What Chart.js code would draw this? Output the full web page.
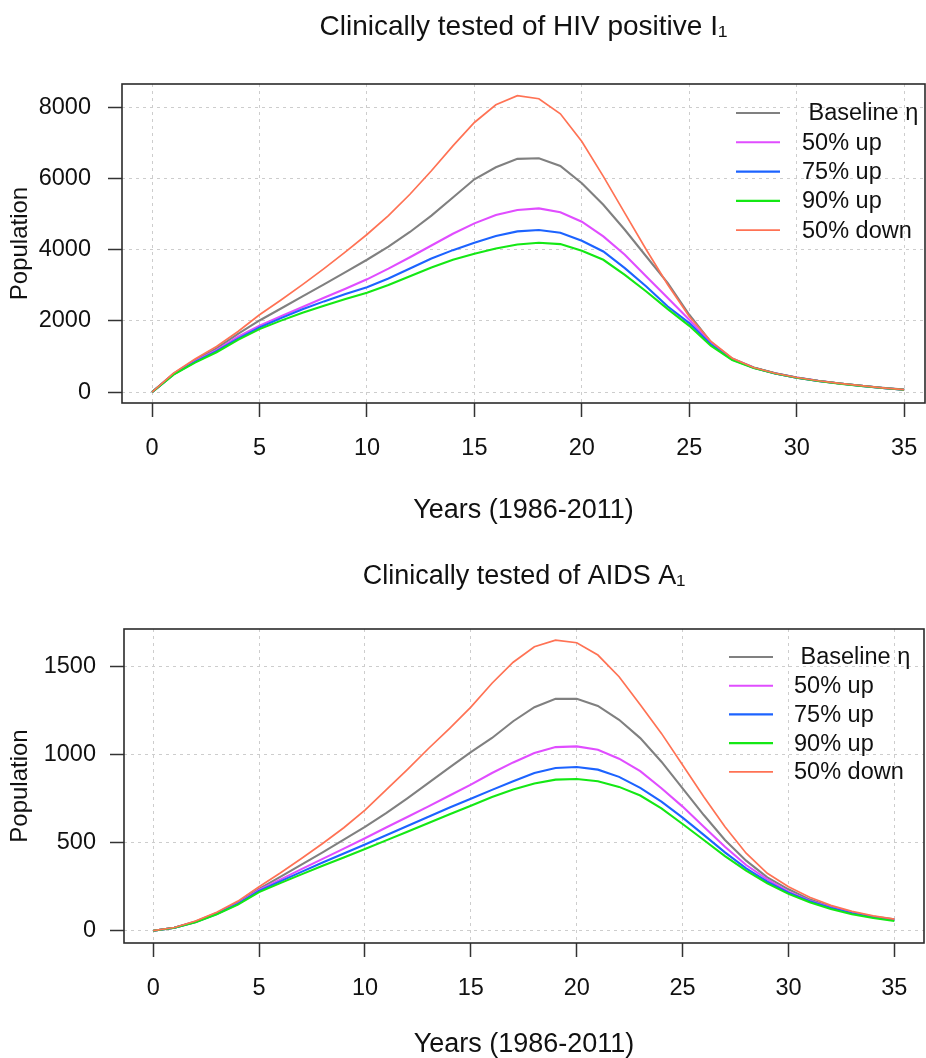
<!DOCTYPE html>
<html><head><meta charset="utf-8">
<script src="https://cdn.jsdelivr.net/npm/chart.js@4.4.1/dist/chart.umd.min.js"></script>
<style>
html,body{margin:0;padding:0;background:#fff;}
#wrap{position:relative;width:926px;height:1058px;overflow:hidden;}
.c{position:absolute;left:0;width:926px;height:529px;}
</style></head><body>
<div id="wrap">
<div class="c" style="top:0"><canvas id="c1" width="926" height="529"></canvas></div>
<div class="c" style="top:529px"><canvas id="c2" width="926" height="529"></canvas></div>
</div>
<script>
const FONT = '"Liberation Sans", Arial, Helvetica, sans-serif';

const years = [0,1,2,3,4,5,6,7,8,9,10,11,12,13,14,15,16,17,18,19,20,21,22,23,24,25,26,27,28,29,30,31,32,33,34,35];
const xTicks = [0,5,10,15,20,25,30,35];
const seriesLabels = [' Baseline \u03b7', '50% up', '75% up', '90% up', '50% down'];
const seriesColors = ['#808080', '#E04DFF', '#1C63FF', '#14E814', '#FF7254'];

// Top panel: Clinically tested of HIV positive I1
const topBaseline = [0,520,900,1230,1640,2014,2350,2690,3030,3370,3720,4090,4500,4960,5470,5981,6319,6554,6573,6357,5868,5265,4562,3812,3064,2175,1410,945,690,530,410,318,245,180,120,70];
const topUp50     = [0,510,870,1180,1560,1870,2130,2390,2650,2905,3170,3470,3790,4120,4450,4742,4977,5117,5164,5052,4789,4375,3860,3250,2642,2032,1380,930,688,528,408,316,243,178,118,68];
const topUp75     = [0,500,850,1150,1500,1817,2080,2330,2550,2755,2950,3192,3474,3756,3990,4200,4390,4516,4554,4479,4253,3953,3485,2969,2407,1939,1345,915,685,526,406,314,242,177,117,67];
const topUp90     = [0,490,830,1120,1470,1771,2010,2230,2430,2615,2795,3010,3258,3500,3720,3890,4037,4150,4197,4160,3972,3719,3297,2828,2333,1863,1305,900,682,524,404,312,240,176,116,66];
const topDown50   = [0,534,930,1283,1705,2173,2590,3020,3470,3940,4430,4960,5560,6220,6920,7577,8075,8329,8244,7822,7042,6061,5031,4000,3016,2126,1430,955,692,532,412,320,246,181,121,71];
const topYTicks = [0,2000,4000,6000,8000];

// Bottom panel: Clinically tested of AIDS A1
const botBaseline = [0,17,52,100,160,238,306,375,445,517,590,668,752,840,928,1015,1095,1190,1270,1317,1317,1277,1198,1094,960,809,657,515,398,303,235,178,136,104,80,65];
const botUp50     = [0,17,50,97,155,231,290,350,408,466,525,586,646,706,768,830,896,956,1009,1043,1047,1028,977,906,809,705,591,477,373,292,222,170,133,102,78,61];
const botUp75     = [0,17,49,95,152,226,280,334,387,438,490,542,595,647,700,750,800,849,896,924,930,915,874,811,733,642,544,445,354,278,216,167,129,99,76,59];
const botUp90     = [0,17,48,93,148,219,270,320,369,416,464,513,562,612,661,710,760,802,836,858,862,849,817,768,695,606,515,424,341,269,209,161,123,93,72,55];
const botDown50   = [0,18,55,105,168,250,328,410,495,585,685,800,915,1035,1150,1270,1406,1525,1613,1651,1636,1566,1443,1283,1121,941,761,591,440,326,250,190,144,110,84,66];
const botYTicks = [0,500,1000,1500];

const drawOrder = [4,3,2,1,0]; // Chart.js 'order': lower drawn on top -> orange on top

const boxLegend = {
  id: 'boxLegend',
  afterDraw(chart, args, o) {
    const {ctx, chartArea: a} = chart;
    ctx.save();
    ctx.strokeStyle = '#2b2b2b';
    ctx.lineWidth = 1.6;
    ctx.setLineDash([]);
    ctx.strokeRect(a.left, a.top, a.right - a.left, a.bottom - a.top);
    ctx.font = '23.5px ' + FONT;
    ctx.textBaseline = 'middle';
    ctx.textAlign = 'left';
    chart.data.datasets.forEach((ds, i) => {
      const y = a.top + o.y0 + i * o.dy;
      ctx.strokeStyle = ds.borderColor;
      ctx.lineWidth = ds.borderWidth;
      ctx.beginPath();
      ctx.moveTo(a.right + o.x1, y);
      ctx.lineTo(a.right + o.x2, y);
      ctx.stroke();
      ctx.fillStyle = '#111';
      ctx.fillText(ds.label, a.right + o.tx, y + 1);
    });
    ctx.restore();
  }
};

function noPad(s) { s.paddingLeft = 0; s.paddingRight = 0; s.paddingTop = 0; s.paddingBottom = 0; }

function makeChart(id, cfg) {
  const vals = cfg.values;
  return new Chart(document.getElementById(id), {
    type: 'line',
    data: {
      datasets: vals.map((v, i) => ({
        label: seriesLabels[i],
        data: years.map((x, j) => ({x: x, y: v[j]})),
        borderColor: seriesColors[i],
        borderWidth: i === 4 ? 1.7 : 2.1,
        pointRadius: 0,
        tension: 0,
        fill: false,
        order: drawOrder[i]
      }))
    },
    options: {
      responsive: false,
      animation: false,
      layout: {padding: {left: 0, right: cfg.padRight, top: 0, bottom: 0}},
      plugins: {
        legend: {display: false},
        tooltip: {enabled: false},
        title: {
          display: true, text: cfg.title, color: '#111', fullSize: false,
          font: {family: FONT, size: cfg.titleSize, weight: 'normal', lineHeight: 1.2},
          padding: {top: cfg.titleTop, bottom: cfg.titleBottom}
        },
        boxLegend: cfg.legend
      },
      scales: {
        x: {
          type: 'linear', min: cfg.xMin, max: cfg.xMax,
          afterBuildTicks: s => { s.ticks = xTicks.map(v => ({value: v})); },
          afterFit: s => { s.height = cfg.xHeight; noPad(s); },
          grid: {color: '#cdcdcd', lineWidth: 1, drawTicks: true, tickLength: 14,
                 tickColor: '#333', tickWidth: 1.5, tickBorderDash: []},
          border: {display: false, dash: [3, 4]},
          ticks: {color: '#111', font: {family: FONT, size: 23.5}, padding: cfg.xTickPad,
                  maxRotation: 0, autoSkip: false, callback: v => String(v)},
          title: {display: true, text: 'Years (1986-2011)', color: '#111',
                  font: {family: FONT, size: 27, lineHeight: 1.0},
                  padding: {top: 0, bottom: cfg.xTitleBottom}}
        },
        y: {
          type: 'linear', min: cfg.yMin, max: cfg.yMax,
          afterBuildTicks: s => { s.ticks = cfg.yTicks.map(v => ({value: v})); },
          afterFit: s => { s.width = cfg.yWidth; noPad(s); },
          grid: {color: '#cdcdcd', lineWidth: 1, drawTicks: true, tickLength: 14,
                 tickColor: '#333', tickWidth: 1.5, tickBorderDash: []},
          border: {display: false, dash: [3, 4]},
          ticks: {color: '#111', font: {family: FONT, size: 23.5}, padding: cfg.yTickPad,
                  autoSkip: false, callback: v => String(v)},
          title: {display: true, text: 'Population', color: '#111',
                  font: {family: FONT, size: 24, lineHeight: 1.2},
                  padding: {top: 6, bottom: 0}}
        }
      }
    },
    plugins: [boxLegend]
  });
}

makeChart('c1', {
  title: 'Clinically tested of HIV positive I\u2081',
  titleSize: 28,
  values: [topBaseline, topUp50, topUp75, topUp90, topDown50],
  yTicks: topYTicks,
  xMin: -1.40, xMax: 35.97, yMin: -305, yMax: 8658,
  padRight: 1, yWidth: 122, xHeight: 126,
  titleTop: 10, titleBottom: 40.4,
  xTickPad: 17, xTitleBottom: 5, yTickPad: 17,
  legend: {x1: -189, x2: -145, tx: -123, y0: 29, dy: 29.3}
});

makeChart('c2', {
  title: 'Clinically tested of AIDS A\u2081',
  titleSize: 27,
  values: [botBaseline, botUp50, botUp75, botUp90, botDown50],
  yTicks: botYTicks,
  xMin: -1.38, xMax: 36.4, yMin: -70, yMax: 1714,
  padRight: 2, yWidth: 124, xHeight: 115,
  titleTop: 31, titleBottom: 36.6,
  xTickPad: 17, xTitleBottom: 0, yTickPad: 14,
  legend: {x1: -195, x2: -151, tx: -130, y0: 28, dy: 28.7}
});
</script>
</body></html>
